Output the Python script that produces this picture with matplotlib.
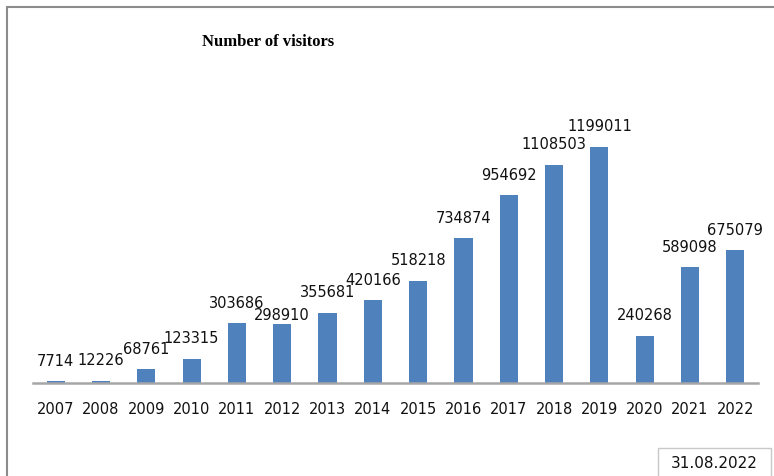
import matplotlib
matplotlib.use("Agg")
import matplotlib.pyplot as plt
from matplotlib.patches import Rectangle

years = ["2007", "2008", "2009", "2010", "2011", "2012", "2013", "2014",
         "2015", "2016", "2017", "2018", "2019", "2020", "2021", "2022"]
visitors = [7714, 12226, 68761, 123315, 303686, 298910, 355681, 420166,
            518218, 734874, 954692, 1108503, 1199011, 240268, 589098, 675079]

W, H = 774, 476
fig = plt.figure(figsize=(W / 100, H / 100), dpi=100)
fig.patch.set_facecolor("white")

# outer frame, cropped at right and bottom like the screenshot
fig.patches.append(Rectangle((7 / W, -0.1), 1.2, (H - 7) / H + 0.1,
                             transform=fig.transFigure, fill=False,
                             edgecolor="#8c8c8c", linewidth=1.5))

ax = fig.add_axes([33 / W, (H - 383) / H, (758 - 33) / W, (383 - 107.4) / H])
x = range(len(years))
ax.bar(x, visitors, width=0.4, color="#4F81BD")
ax.set_xlim(-0.5, len(years) - 0.5)
ax.set_ylim(0, 1400000)

# excel pushed the 2012 label down so it wouldn't sit on the 2011 one
label_lift = {"2012": 0.5}
for xi, yr, v in zip(x, years, visitors):
    ax.annotate(str(v), (xi, v), xytext=(0, label_lift.get(yr, 9)),
                textcoords="offset points", ha="center", va="bottom",
                fontsize=10.5, family="DejaVu Sans", color="#111111")

ax.set_xticks(list(x))
ax.set_xticklabels(years, fontsize=10.5, family="DejaVu Sans", color="#111111")
ax.tick_params(axis="x", length=0, pad=14)
ax.set_yticks([])
for side in ["top", "right", "left"]:
    ax.spines[side].set_visible(False)
ax.spines["bottom"].set_color("#a6a6a6")
ax.spines["bottom"].set_linewidth(1.8)

fig.text(268 / W, 1 - 42 / H, "Number of visitors", ha="center", va="center",
         fontsize=12, fontweight="bold", family="Liberation Serif")

# date stamp box
fig.patches.append(Rectangle((658 / W, -0.05), (771 - 658) / W, (H - 448) / H + 0.05,
                             transform=fig.transFigure, fill=False,
                             edgecolor="#c8c8c8", linewidth=1))
fig.text(714 / W, 1 - 463 / H, "31.08.2022", ha="center", va="center",
         fontsize=11, family="DejaVu Sans", color="#111111")

fig.savefig("out.png", dpi=100)
